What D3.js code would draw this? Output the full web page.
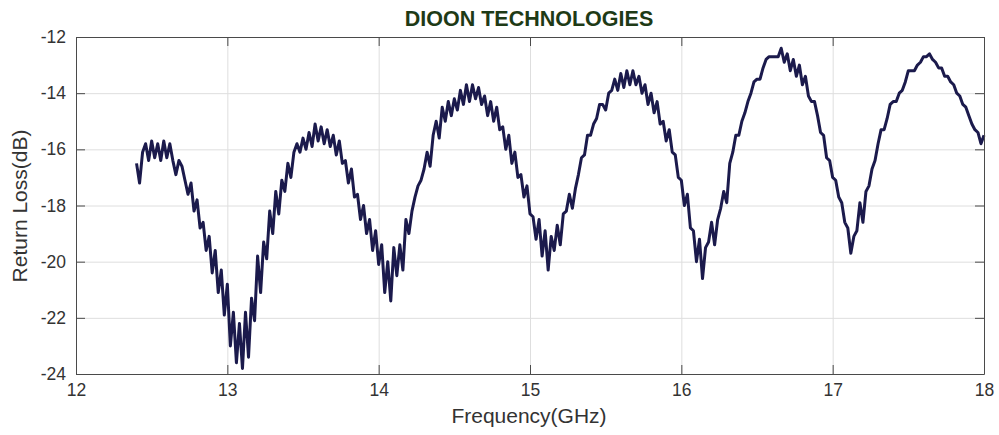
<!DOCTYPE html>
<html>
<head>
<meta charset="utf-8">
<script src="https://cdn.jsdelivr.net/npm/d3@7"></script>
<style>
  body { margin: 0; background: #fff; }
  svg { display: block; font-family: "Liberation Sans", Arial, sans-serif; }
</style>
</head>
<body>
<svg id="chart" width="999" height="435"></svg>
<script>
const xTicks = [12, 13, 14, 15, 16, 17, 18]
const yTicks = [-24, -22, -20, -18, -16, -14, -12]

const freqGHz = [
  12.40, 12.42, 12.44, 12.46, 12.48, 12.50, 12.52, 12.54, 12.56, 12.58,
  12.60, 12.62, 12.64, 12.66, 12.68, 12.70, 12.72, 12.74, 12.76, 12.78,
  12.80, 12.82, 12.84, 12.86, 12.88, 12.90, 12.92, 12.94, 12.96, 12.98,
  13.00, 13.02, 13.04, 13.06, 13.08, 13.10, 13.12, 13.14, 13.16, 13.18,
  13.20, 13.22, 13.24, 13.26, 13.28, 13.30, 13.32, 13.34, 13.36, 13.38,
  13.40, 13.42, 13.44, 13.46, 13.48, 13.50, 13.52, 13.54, 13.56, 13.58,
  13.60, 13.62, 13.64, 13.66, 13.68, 13.70, 13.72, 13.74, 13.76, 13.78,
  13.80, 13.82, 13.84, 13.86, 13.88, 13.90, 13.92, 13.94, 13.96, 13.98,
  14.00, 14.02, 14.04, 14.06, 14.08, 14.10, 14.12, 14.14, 14.16, 14.18,
  14.20, 14.22, 14.24, 14.26, 14.28, 14.30, 14.32, 14.34, 14.36, 14.38,
  14.40, 14.42, 14.44, 14.46, 14.48, 14.50, 14.52, 14.54, 14.56, 14.58,
  14.60, 14.62, 14.64, 14.66, 14.68, 14.70, 14.72, 14.74, 14.76, 14.78,
  14.80, 14.82, 14.84, 14.86, 14.88, 14.90, 14.92, 14.94, 14.96, 14.98,
  15.00, 15.02, 15.04, 15.06, 15.08, 15.10, 15.12, 15.14, 15.16, 15.18,
  15.20, 15.22, 15.24, 15.26, 15.28, 15.30, 15.32, 15.34, 15.36, 15.38,
  15.40, 15.42, 15.44, 15.46, 15.48, 15.50, 15.52, 15.54, 15.56, 15.58,
  15.60, 15.62, 15.64, 15.66, 15.68, 15.70, 15.72, 15.74, 15.76, 15.78,
  15.80, 15.82, 15.84, 15.86, 15.88, 15.90, 15.92, 15.94, 15.96, 15.98,
  16.00, 16.02, 16.04, 16.06, 16.08, 16.10, 16.12, 16.14, 16.16, 16.18,
  16.20, 16.22, 16.24, 16.26, 16.28, 16.30, 16.32, 16.34, 16.36, 16.38,
  16.40, 16.42, 16.44, 16.46, 16.48, 16.50, 16.52, 16.54, 16.56, 16.58,
  16.60, 16.62, 16.64, 16.66, 16.68, 16.70, 16.72, 16.74, 16.76, 16.78,
  16.80, 16.82, 16.84, 16.86, 16.88, 16.90, 16.92, 16.94, 16.96, 16.98,
  17.00, 17.02, 17.04, 17.06, 17.08, 17.10, 17.12, 17.14, 17.16, 17.18,
  17.20, 17.22, 17.24, 17.26, 17.28, 17.30, 17.32, 17.34, 17.36, 17.38,
  17.40, 17.42, 17.44, 17.46, 17.48, 17.50, 17.52, 17.54, 17.56, 17.58,
  17.60, 17.62, 17.64, 17.66, 17.68, 17.70, 17.72, 17.74, 17.76, 17.78,
  17.80, 17.82, 17.84, 17.86, 17.88, 17.90, 17.92, 17.94, 17.96, 17.98,
  18.00
]

const returnLoss = [
  -16.5, -17.2, -16.1, -15.8, -16.4, -15.7, -16.3, -15.8, -16.4, -15.7,
  -16.3, -15.8, -16.4, -16.9, -16.4, -16.6, -17.1, -17.6, -17.2, -18.2,
  -17.8, -18.8, -18.6, -19.6, -19.1, -20.4, -19.6, -21.1, -20.3, -21.9,
  -20.8, -23.0, -21.8, -23.6, -22.2, -23.8, -21.8, -23.4, -21.3, -22.1,
  -19.8, -21.1, -19.3, -19.9, -18.2, -19.0, -17.5, -18.3, -17.1, -17.5,
  -16.5, -17.0, -16.1, -15.8, -16.1, -15.6, -16.0, -15.4, -15.9, -15.1,
  -15.7, -15.2, -15.8, -15.3, -15.9, -15.5, -16.2, -15.7, -16.5, -16.4,
  -17.2, -16.7, -17.7, -17.6, -18.5, -18.0, -19.0, -18.5, -19.6, -18.9,
  -20.1, -19.4, -21.1, -20.0, -21.4, -19.5, -20.5, -19.4, -20.3, -18.5,
  -19.0, -18.2, -17.7, -17.3, -17.1, -16.7, -16.1, -16.6, -15.5, -15.0,
  -15.6, -14.5, -15.0, -14.3, -14.8, -14.2, -14.6, -13.9, -14.4, -13.7,
  -14.3, -13.7, -14.2, -13.8, -14.4, -14.1, -14.8, -14.3, -15.0, -14.5,
  -15.3, -15.2, -16.0, -15.5, -16.5, -16.1, -17.0, -16.9, -17.7, -17.3,
  -18.3, -18.4, -19.2, -18.5, -19.8, -18.9, -20.3, -19.1, -19.6, -18.7,
  -19.4, -18.3, -18.2, -17.6, -18.1, -17.4, -16.9, -16.3, -16.2, -15.5,
  -15.5, -15.1, -14.9, -14.4, -14.4, -14.6, -14.0, -13.9, -13.5, -13.9,
  -13.3, -13.8, -13.2, -13.7, -13.2, -13.7, -13.4, -14.0, -13.7, -14.4,
  -14.0, -14.7, -14.3, -15.1, -15.0, -15.7, -15.3, -16.1, -16.2, -17.0,
  -17.1, -18.0, -17.6, -18.8, -18.9, -20.0, -19.2, -20.6, -19.5, -19.3,
  -18.6, -19.4, -18.5, -18.1, -17.5, -17.9, -16.5, -16.1, -15.5, -15.5,
  -15.0, -14.7, -14.3, -14.0, -13.6, -13.5, -13.5, -13.1, -12.8, -12.7,
  -12.7, -12.7, -12.7, -12.4, -12.9, -12.6, -13.2, -12.8, -13.4, -13.0,
  -13.7, -13.4, -14.1, -14.3, -14.3, -14.8, -15.4, -15.5, -16.3, -16.4,
  -17.0, -17.1, -17.7, -17.9, -18.6, -18.8, -19.7, -19.1, -18.9, -17.9,
  -18.6, -17.5, -17.3, -16.7, -16.4, -15.8, -15.3, -15.3, -14.9, -14.4,
  -14.3, -14.3, -14.0, -13.9, -13.6, -13.2, -13.2, -13.2, -13.0, -12.9,
  -12.7, -12.7, -12.6, -12.8, -12.9, -13.1, -13.1, -13.4, -13.4, -13.6,
  -13.7, -14.0, -14.1, -14.4, -14.5, -14.8, -15.1, -15.3, -15.4, -15.8,
  -15.5
]

const margin = { left: 76, right: 15, top: 37, bottom: 61 }
const width = 999 - margin.left - margin.right
const height = 435 - margin.top - margin.bottom

const data = freqGHz.map((f, i) => ({ f: f, v: returnLoss[i] }))

const svg = d3.select("#chart")

const xScale = d3.scaleLinear().domain([12, 18]).range([0, width])
const yScale = d3.scaleLinear().domain([-24, -12]).range([height, 0])

const g = svg.append("g")
             .attr("transform", `translate(${margin.left}, ${margin.top})`)

// grid
g.append("g")
 .attr("class", "grid")
 .attr("transform", `translate(0, ${height})`)
 .call(d3.axisBottom(xScale).tickValues(xTicks).tickSize(-height).tickFormat(""))
 .call(s => s.select(".domain").remove())
 .call(s => s.selectAll("line").attr("stroke", "#dedede"))

g.append("g")
 .attr("class", "grid")
 .call(d3.axisLeft(yScale).tickValues(yTicks).tickSize(-width).tickFormat(""))
 .call(s => s.select(".domain").remove())
 .call(s => s.selectAll("line").attr("stroke", "#dedede"))

const line = d3.line()
               .x(d => xScale(d.f))
               .y(d => yScale(d.v))

g.append("path")
 .datum(data)
 .attr("fill", "none")
 .attr("stroke", "#1b1a4c")
 .attr("stroke-width", 3)
 .attr("stroke-linejoin", "round")
 .attr("d", line)

// axes, MATLAB-like box with inward ticks
const axisColor = "#4a4a4a"
const labelColor = "#333"
const plain = d => String(d)

function styleAxis(s) {
  s.select(".domain").attr("stroke", axisColor)
  s.selectAll(".tick line").attr("stroke", axisColor)
  s.selectAll(".tick text").attr("fill", labelColor).style("font-size", "17.5px")
}

g.append("g")
 .attr("transform", `translate(0, ${height})`)
 .call(d3.axisBottom(xScale).tickValues(xTicks).tickFormat(plain).tickSizeInner(-9).tickSizeOuter(0).tickPadding(10))
 .call(styleAxis)

g.append("g")
 .call(d3.axisLeft(yScale).tickValues(yTicks).tickFormat(plain).tickSizeInner(-9).tickSizeOuter(0).tickPadding(10))
 .call(styleAxis)

g.append("g")
 .call(d3.axisTop(xScale).tickValues(xTicks).tickSizeInner(-9).tickSizeOuter(0).tickFormat(""))
 .call(styleAxis)

g.append("g")
 .attr("transform", `translate(${width}, 0)`)
 .call(d3.axisRight(yScale).tickValues(yTicks).tickSizeInner(-9).tickSizeOuter(0).tickFormat(""))
 .call(styleAxis)

svg.append("text")
   .attr("x", 529)
   .attr("y", 26)
   .attr("text-anchor", "middle")
   .attr("fill", "#1e3a16")
   .style("font-size", "21.5px")
   .style("font-weight", "bold")
   .text("DIOON TECHNOLOGIES")

svg.append("text")
   .attr("x", 529)
   .attr("y", 423)
   .attr("text-anchor", "middle")
   .attr("fill", labelColor)
   .style("font-size", "21px")
   .text("Frequency(GHz)")

svg.append("text")
   .attr("transform", `translate(27, 206) rotate(-90)`)
   .attr("text-anchor", "middle")
   .attr("fill", labelColor)
   .style("font-size", "21px")
   .text("Return Loss(dB)")
</script>
</body>
</html>
